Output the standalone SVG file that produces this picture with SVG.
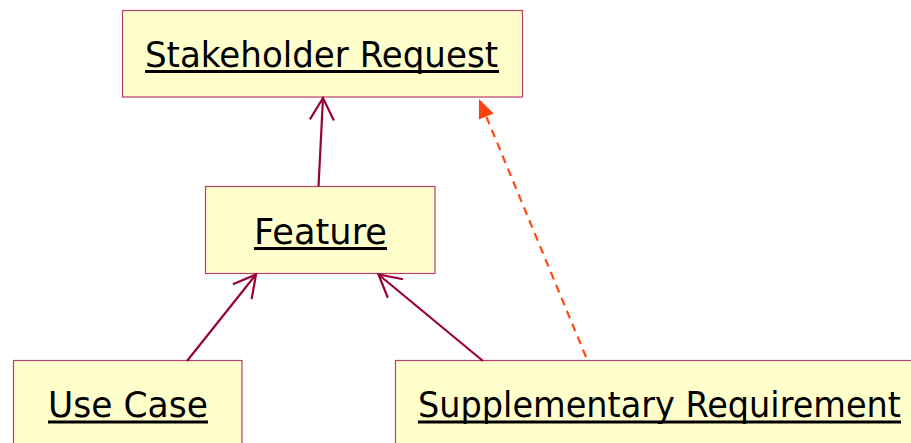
<svg xmlns="http://www.w3.org/2000/svg" width="911" height="443" viewBox="0 0 911 443">
  <style>
    .box { fill: #ffffcc; stroke: #b8406a; stroke-width: 1.2; }
    .label { font-family: "DejaVu Sans", Verdana, sans-serif; font-size: 36px; fill: #000; }
    .uline { stroke: #000; stroke-width: 3; }
    .assoc { fill: none; stroke: #99003a; stroke-width: 2.2; }
    .dep { fill: none; stroke: #ff4a10; stroke-width: 2.2; stroke-dasharray: 8 6; }
  </style>
  <defs>
    <marker id="openArrow" markerUnits="userSpaceOnUse" markerWidth="40" markerHeight="40" viewBox="-30 -20 40 40" refX="0" refY="0" orient="auto">
      <path d="M-22,-12 L0,0 L-22,12" fill="none" stroke="#99003a" stroke-width="2.2"/>
    </marker>
    <marker id="solidArrow" markerUnits="userSpaceOnUse" markerWidth="40" markerHeight="40" viewBox="-30 -20 40 40" refX="0" refY="0" orient="auto">
      <path d="M-19,-8 L0,0 L-19,8 Z" fill="#ff4010"/>
    </marker>
  </defs>

  <g id="stakeholder-request">
    <rect class="box" x="122.5" y="10.5" width="400" height="86.5"/>
    <text class="label" x="145" y="67" textLength="353" lengthAdjust="spacingAndGlyphs">Stakeholder Request</text>
    <line class="uline" x1="145" y1="71.5" x2="499" y2="71.5"/>
  </g>

  <g id="feature">
    <rect class="box" x="205.5" y="186.5" width="229.5" height="87"/>
    <text class="label" x="254" y="244" textLength="133" lengthAdjust="spacingAndGlyphs">Feature</text>
    <line class="uline" x1="254" y1="248.5" x2="387" y2="248.5"/>
  </g>

  <g id="use-case">
    <rect class="box" x="13.5" y="360.5" width="228.5" height="90"/>
    <text class="label" x="48" y="417" textLength="160" lengthAdjust="spacingAndGlyphs">Use Case</text>
    <line class="uline" x1="48" y1="422" x2="208" y2="422"/>
  </g>

  <g id="supplementary-requirement">
    <rect class="box" x="395.5" y="360.5" width="530" height="90"/>
    <text class="label" x="418" y="417" textLength="483" lengthAdjust="spacingAndGlyphs">Supplementary Requirement</text>
    <line class="uline" x1="418" y1="422" x2="901" y2="422"/>
  </g>

  <g id="connectors">
    <line class="assoc" x1="318.5" y1="186.5" x2="323" y2="98" marker-end="url(#openArrow)"/>
    <line class="assoc" x1="187" y1="361" x2="256" y2="274.5" marker-end="url(#openArrow)"/>
    <line class="assoc" x1="483" y1="361" x2="378.5" y2="274.5" marker-end="url(#openArrow)"/>
    <line class="dep" x1="586" y1="357" x2="479" y2="99" marker-end="url(#solidArrow)"/>
  </g>
</svg>
